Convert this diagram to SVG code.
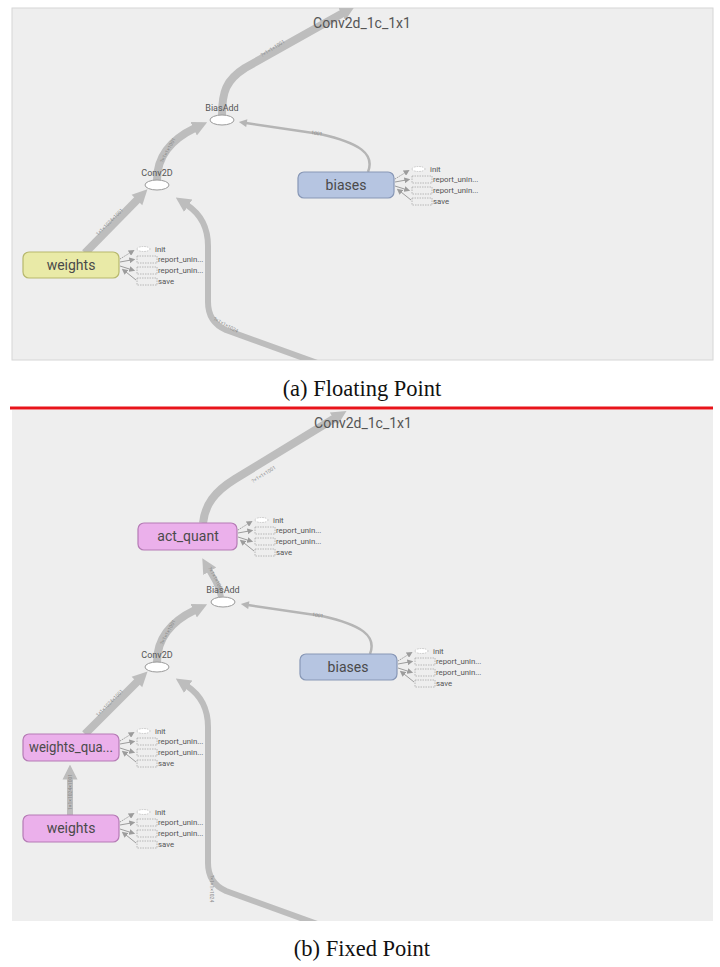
<svg xmlns="http://www.w3.org/2000/svg" xmlns:xlink="http://www.w3.org/1999/xlink" width="720" height="967" viewBox="0 0 720 967">
<style>
.panel{fill:#eeeeee;stroke:#d6d6d6;stroke-width:1}
.edge{fill:none;stroke:#bdbdbd;stroke-linecap:butt;stroke-linejoin:round}
.thick{stroke-width:8}
.mid{stroke-width:6}
.thin{stroke-width:2.5;stroke:#b5b5b5}
.elab{font-family:Roboto,"Liberation Sans",sans-serif;font-size:5px;fill:#8a8a8a}
.nlab{font-family:Roboto,"Liberation Sans",sans-serif;font-size:14px;fill:#4a4a4a;text-anchor:middle}
.olab{font-family:Roboto,"Liberation Sans",sans-serif;font-size:9px;fill:#555;text-anchor:middle}
.op{fill:#ffffff;stroke:#9a9a9a;stroke-width:1}
.title{font-family:Roboto,"Liberation Sans",sans-serif;font-size:14px;fill:#555;text-anchor:middle}
.cap{font-family:"Liberation Serif",serif;font-size:22.5px;fill:#111;text-anchor:middle}
.yel{fill:#e9eaa7;stroke:#b7b86c;stroke-width:1.2}
.blu{fill:#b6c5e1;stroke:#8797b6;stroke-width:1.2}
.pnk{fill:#ebb0eb;stroke:#b57bb5;stroke-width:1.2}
.aux{fill:none;stroke:#a8a8a8;stroke-width:0.8;stroke-dasharray:1.5,1}
.auxi{fill:#ffffff;stroke:#bbbbbb;stroke-width:0.8;stroke-dasharray:1.5,1}
.auxe{fill:none;stroke:#9c9c9c;stroke-width:1}
.auxt{font-family:Roboto,"Liberation Sans",sans-serif;font-size:7.8px;fill:#555}
</style>
<defs>
<marker id="ah" viewBox="0 0 10 10" refX="1" refY="5" markerUnits="userSpaceOnUse" markerWidth="15" markerHeight="17" orient="auto"><path d="M0,0 L10,5 L0,10 z" fill="#bdbdbd"/></marker>
<marker id="ahs" viewBox="0 0 10 10" refX="1" refY="5" markerUnits="userSpaceOnUse" markerWidth="9" markerHeight="8" orient="auto"><path d="M0,0 L10,5 L0,10 z" fill="#b5b5b5"/></marker>
<marker id="aha" viewBox="0 0 10 10" refX="1" refY="5" markerUnits="userSpaceOnUse" markerWidth="6" markerHeight="6" orient="auto"><path d="M0,0 L10,5 L0,10 z" fill="#9c9c9c"/></marker>
<clipPath id="clipA"><rect x="12" y="8" width="701" height="352"/></clipPath>
<clipPath id="clipB"><rect x="12" y="410" width="701" height="511"/></clipPath>
<g id="aux">
<path class="auxe" d="M1,7 L11,0.8" stroke-dasharray="1.5,1" marker-end="url(#aha)"/>
<path class="auxe" d="M1,10 L11,8.2" marker-end="url(#aha)"/>
<path class="auxe" d="M1,14 L11,17.2" marker-end="url(#aha)"/>
<path class="auxe" d="M17,28 L7,20" marker-end="url(#aha)"/>
<ellipse class="auxi" cx="24.5" cy="-3" rx="6.5" ry="2.5"/>
<rect class="aux" x="18" y="4" width="20" height="7"/>
<rect class="aux" x="18" y="15" width="20" height="7"/>
<rect class="aux" x="18" y="26" width="20" height="7"/>
<text class="auxt" x="36" y="-0.3">init</text>
<text class="auxt" x="39" y="10.3">report_unin...</text>
<text class="auxt" x="39" y="21.3">report_unin...</text>
<text class="auxt" x="39" y="32.3">save</text>
</g>
</defs>
<rect width="720" height="967" fill="#ffffff"/>

<!-- Panel A -->
<rect class="panel" x="12" y="8" width="701" height="352"/>
<g id="connectorsA" clip-path="url(#clipA)">
<path class="edge thick" d="M222,115 C222,92 226,80 245,68 L343,13" marker-end="url(#ah)"/>
<path class="edge thick" d="M157,180 C157,158 170,140 195,128" marker-end="url(#ah)"/>
<path class="edge thick" d="M85,253 L138,199" marker-end="url(#ah)"/>
<path class="edge mid" d="M320,364 L226,330 Q208,322 208,302 L208,246 C208,226 199,213 187,205" marker-end="url(#ah)"/>
<path class="edge thin" d="M368,172 C375,154 360,143 320,134 L246,123" marker-end="url(#ahs)"/>
<text class="elab" transform="translate(262,57) rotate(-32)">?×1×1×1001</text>
<text class="elab" transform="translate(163,163) rotate(-62)">?×1×1×1001</text>
<text class="elab" transform="translate(98,236) rotate(-45)">1×1×1024×1001</text>
<text class="elab" transform="translate(213,320) rotate(28)">?×1×1×1024</text>
<text class="elab" transform="translate(311,134) rotate(9)">1001</text>
</g>
<text class="title" x="362" y="28">Conv2d_1c_1x1</text>
<g id="biasaddA"><ellipse class="op" cx="222" cy="120" rx="12" ry="5"/><text class="olab" x="222" y="111">BiasAdd</text></g>
<g id="conv2dA"><ellipse class="op" cx="157" cy="185" rx="12" ry="5"/><text class="olab" x="157" y="176">Conv2D</text></g>
<g id="weightsA"><rect class="yel" x="23" y="252" width="96" height="26" rx="6"/><text class="nlab" x="71" y="270">weights</text><use xlink:href="#aux" transform="translate(119,252)"/></g>
<g id="biasesA"><rect class="blu" x="298" y="172" width="96" height="26" rx="6"/><text class="nlab" x="346" y="190">biases</text><use xlink:href="#aux" transform="translate(394,172)"/></g>
<text class="cap" x="362" y="396">(a) Floating Point</text>

<line x1="10" y1="408" x2="713" y2="408" stroke="#e8141b" stroke-width="3"/>

<!-- Panel B -->
<rect x="12" y="410" width="701" height="511" fill="#eeeeee"/>
<g id="connectorsB" clip-path="url(#clipB)">
<path class="edge thick" d="M203,523 C205,505 214,492 235,479 L335,418" marker-end="url(#ah)"/>
<path class="edge mid" d="M221,597 C219,585 213,577 209,570" marker-end="url(#ah)"/>
<path class="edge thick" d="M157,662 C157,640 170,622 195,610" marker-end="url(#ah)"/>
<path class="edge thick" d="M85,734 L138,681" marker-end="url(#ah)"/>
<path class="edge mid" d="M70,815 L70,778" marker-end="url(#ah)"/>
<path class="edge mid" d="M320,925 L226,891 Q208,883 208,863 L208,727 C208,707 199,694 187,686" marker-end="url(#ah)"/>
<path class="edge thin" d="M370,654 C377,636 362,625 322,616 L248,605" marker-end="url(#ahs)"/>
<text class="elab" transform="translate(253,483) rotate(-32)">?×1×1×1001</text>
<text class="elab" transform="translate(208,568) rotate(62)">?×1×1×1001</text>
<text class="elab" transform="translate(163,645) rotate(-62)">?×1×1×1001</text>
<text class="elab" transform="translate(98,717) rotate(-45)">1×1×1024×1001</text>
<text class="elab" transform="translate(72,810) rotate(-90)">1×1×1024×1001</text>
<text class="elab" transform="translate(210,875) rotate(90)">?×1×1×1024</text>
<text class="elab" transform="translate(312,616) rotate(9)">1001</text>
</g>
<text class="title" x="363" y="428">Conv2d_1c_1x1</text>
<g id="actquantB"><rect class="pnk" x="138" y="523" width="99" height="27" rx="6"/><text class="nlab" x="188" y="541">act_quant</text><use xlink:href="#aux" transform="translate(237,523)"/></g>
<g id="biasaddB"><ellipse class="op" cx="223" cy="602" rx="12" ry="5"/><text class="olab" x="223" y="593">BiasAdd</text></g>
<g id="conv2dB"><ellipse class="op" cx="157" cy="667" rx="12" ry="5"/><text class="olab" x="157" y="658">Conv2D</text></g>
<g id="biasesB"><rect class="blu" x="300" y="654" width="97" height="26" rx="6"/><text class="nlab" x="348" y="672">biases</text><use xlink:href="#aux" transform="translate(397,654)"/></g>
<g id="weightsquaB"><rect class="pnk" x="23" y="734" width="96" height="27" rx="6"/><text class="nlab" x="71" y="752" textLength="84" lengthAdjust="spacingAndGlyphs">weights_qua...</text><use xlink:href="#aux" transform="translate(119,734)"/></g>
<g id="weightsB"><rect class="pnk" x="23" y="815" width="96" height="27" rx="6"/><text class="nlab" x="71" y="833">weights</text><use xlink:href="#aux" transform="translate(119,815)"/></g>
<text class="cap" x="362" y="956">(b) Fixed Point</text>
</svg>
